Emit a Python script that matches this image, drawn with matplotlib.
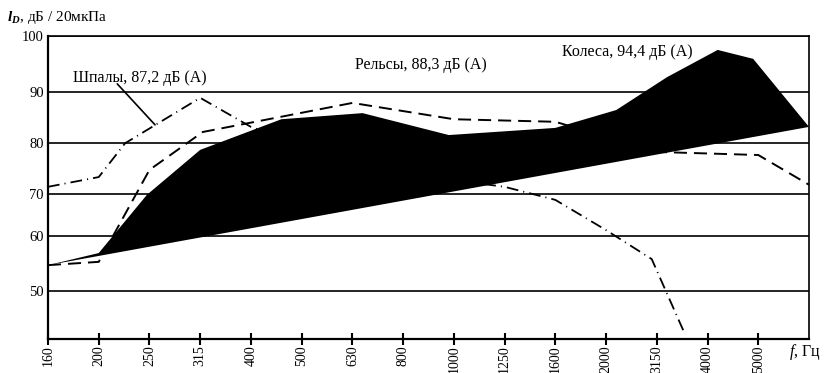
import numpy as np
import matplotlib
matplotlib.use("Agg")
import matplotlib.pyplot as plt

plt.rcParams['font.family'] = ['Liberation Serif', 'DejaVu Serif']
plt.rcParams['mathtext.fontset'] = 'custom'
plt.rcParams['mathtext.rm'] = 'Liberation Serif'
plt.rcParams['mathtext.it'] = 'Liberation Serif:italic'
plt.rcParams['mathtext.bf'] = 'Liberation Serif:italic:bold'

# ---- data ----
bands = ["160", "200", "250", "315", "400", "500", "630", "800", "1000",
         "1250", "1600", "2000", "3150", "4000", "5000"]
y_ticks = [50, 60, 70, 80, 90, 100]

# Колеса (filled region): upper edge and straight lower edge
wheels_x = [0, 1.0, 1.95, 3.0, 4.6, 6.2, 7.9, 10.0, 11.2, 12.2, 13.2, 13.9, 15.0]
wheels_db = [54.7, 56.9, 69.8, 78.6, 84.6, 85.8, 81.5, 82.9, 86.4, 92.6, 97.5, 95.9, 83.1]
wheels_floor_x = [0, 15.0]
wheels_floor_db = [54.7, 83.1]

# Рельсы (dashed)
rails_x = [0, 1.0, 2.0, 3.05, 6.0, 8.0, 10.0, 12.0, 14.0, 15.0]
rails_db = [54.7, 55.3, 74.7, 82.1, 87.8, 84.6, 84.1, 78.2, 77.6, 71.8]

# Шпалы (dash-dot)
sleepers_x = [0, 1.0, 1.52, 3.0, 4.0, 5.0, 7.0, 8.0, 9.0, 10.0, 11.0, 11.9, 12.52]
sleepers_db = [71.4, 73.3, 79.9, 88.8, 83.1, 79.5, 74.7, 72.7, 71.4, 68.6, 61.4, 55.8, 42.9]

labels = ["Шпалы, 87,2 дБ (А)", "Рельсы, 88,3 дБ (А)", "Колеса, 94,4 дБ (А)"]

# non-uniform vertical scale of the original drawing
scale_db = [41.3, 50, 60, 70, 80, 90, 100]
scale_pos = [0, 48, 103, 145, 196.3, 247.3, 303]

def fwd(v):
    return np.interp(v, scale_db, scale_pos)

def inv(p):
    return np.interp(p, scale_pos, scale_db)

fig = plt.figure(figsize=(8.27, 3.73), dpi=100)
ax = fig.add_axes([48/827, 1-339/373, 761/827, 303/373])
ax.set_yscale('function', functions=(fwd, inv))
ax.set_xlim(0, 15)
ax.set_ylim(41.3, 100)

ax.set_yticks(y_ticks)
ax.set_yticklabels([str(t) for t in y_ticks], fontsize=10.5)
ax.tick_params(axis='y', length=0, pad=3)
ax.set_xticks(range(len(bands)))
ax.set_xticklabels(bands, rotation=90, fontsize=10)
ax.tick_params(axis='x', direction='inout', length=9, width=1.5, pad=0)
ax.yaxis.grid(True, color='black', lw=1.2)
ax.set_axisbelow(True)

for s in ['left', 'bottom']:
    ax.spines[s].set_linewidth(1.6)
for s in ['top', 'right']:
    ax.spines[s].set_linewidth(1.2)

ax.plot(rails_x, rails_db, color='black', lw=1.4, dashes=(6.7, 3.6), zorder=3)
ax.plot(sleepers_x, sleepers_db, color='black', lw=1.3,
        dashes=(6.5, 2.8, 0.6, 2.8), zorder=3)

poly_x = list(wheels_x) + list(wheels_floor_x[::-1])
poly_y = list(wheels_db) + list(wheels_floor_db[::-1])
ax.fill(poly_x, poly_y, color='black', lw=0, zorder=4)

ax.text(0.033, 0.861, labels[0], transform=ax.transAxes, fontsize=11.5,
        va='center', ha='left', zorder=6)
ax.text(0.403, 0.904, labels[1], transform=ax.transAxes, fontsize=11.5,
        va='center', ha='left', zorder=6)
ax.text(0.675, 0.947, labels[2], transform=ax.transAxes, fontsize=11.5,
        va='center', ha='left', zorder=6)
ax.annotate("", xy=(2.11, 83.5), xycoords='data',
            xytext=(0.091, 0.842), textcoords='axes fraction',
            arrowprops=dict(arrowstyle='-', color='black', lw=1.2,
                            shrinkA=0, shrinkB=0), zorder=6)

fig.text(7/827, 1-17/373, r"$\mathbf{l}_{\mathbf{D}}$, дБ / 20мкПа",
         fontsize=11, va='center', ha='left')
fig.text(789/827, 1-352/373, r"$\mathit{f}$, Гц", fontsize=11.5,
         va='center', ha='left')

fig.savefig('out.png', dpi=100)
